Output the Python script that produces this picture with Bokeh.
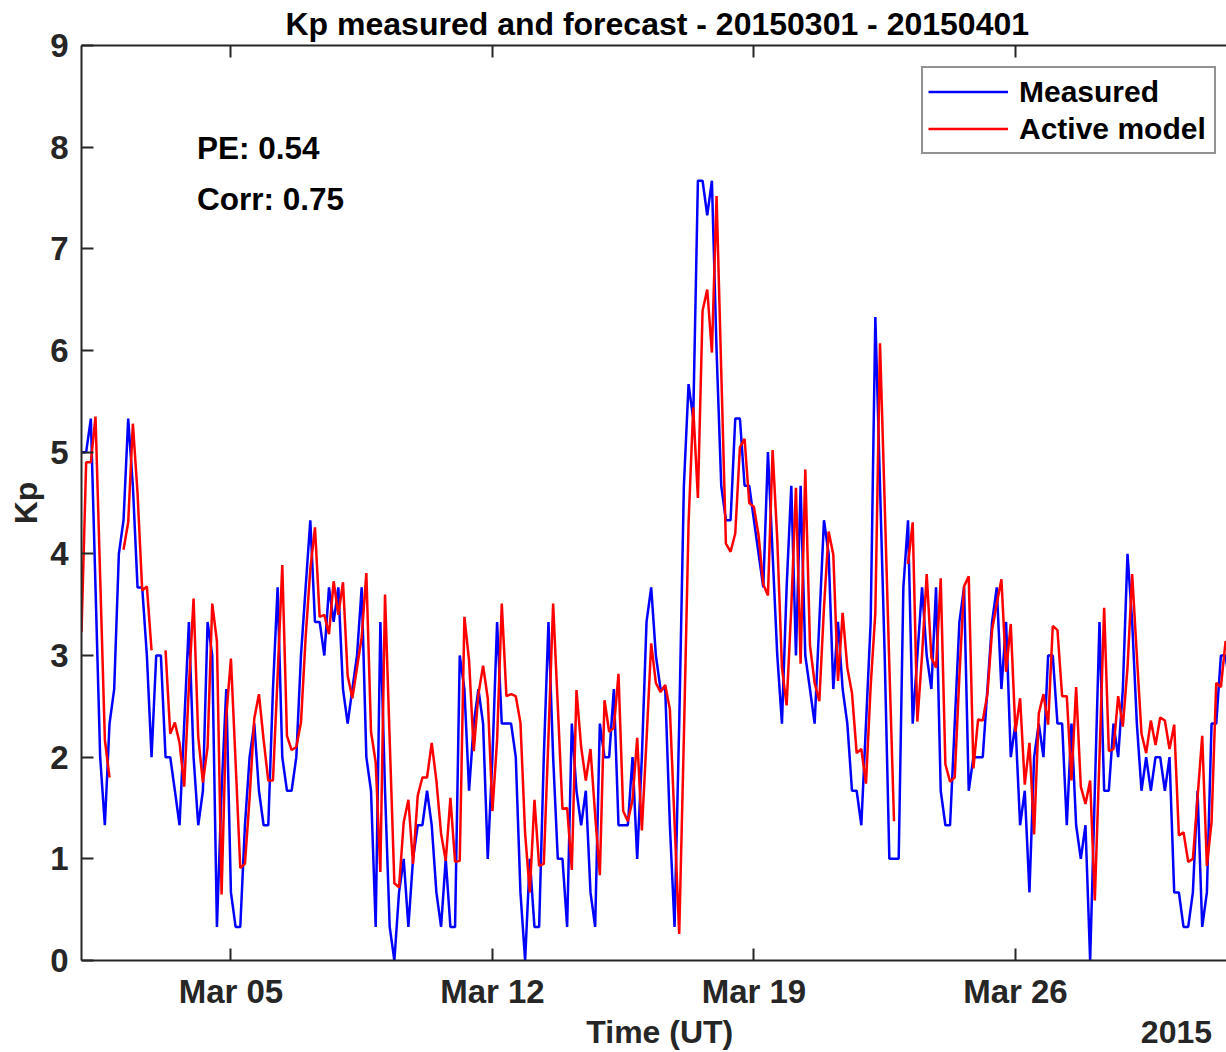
import numpy as np
import pandas as pd
from bokeh.plotting import figure
from bokeh.models import (Range1d, FixedTicker, DatetimeTickFormatter, DatetimeAxis,
                          LinearAxis, Label, Legend, LegendItem, ColumnDataSource)
from bokeh.embed import file_html
from bokeh.resources import INLINE

nan = float("nan")

# ---- data (3-hourly Kp, starting 2015-03-01 00:00 UT) ----
start_time = "2015-03-01 00:00"
step = "3h"

measured = [
    5.0, 5.0, 5.33, 3.67, 2.0, 1.33, 2.33, 2.67, 4.0, 4.33,
    5.33, 4.67, 3.67, 3.67, 3.0, 2.0, 3.0, 3.0, 2.0, 2.0,
    1.67, 1.33, 2.33, 3.33, 2.0, 1.33, 1.67, 3.33, 3.0, 0.33,
    1.67, 2.67, 0.67, 0.33, 0.33, 1.33, 2.0, 2.33, 1.67, 1.33,
    1.33, 2.67, 3.67, 2.0, 1.67, 1.67, 2.0, 3.0, 3.67, 4.33,
    3.33, 3.33, 3.0, 3.67, 3.33, 3.67, 2.67, 2.33, 2.67, 3.0,
    3.67, 2.0, 1.67, 0.33, 3.33, 1.67, 0.33, 0.0, 0.67, 1.0,
    0.33, 1.0, 1.33, 1.33, 1.67, 1.33, 0.67, 0.33, 1.0, 0.33,
    0.33, 3.0, 2.67, 1.67, 2.33, 2.67, 2.33, 1.0, 2.0, 3.33,
    2.33, 2.33, 2.33, 2.0, 0.67, 0.0, 1.0, 0.33, 0.33, 2.0,
    3.33, 2.0, 1.0, 1.0, 0.33, 2.33, 1.67, 1.33, 1.67, 0.67,
    0.33, 2.33, 2.0, 2.0, 2.67, 1.33, 1.33, 1.33, 2.0, 1.0,
    2.0, 3.33, 3.67, 3.0, 2.67, 2.67, 1.33, 0.33, 2.33, 4.67,
    5.67, 5.33, 7.67, 7.67, 7.33, 7.67, 6.0, 4.67, 4.33, 4.33,
    5.33, 5.33, 4.67, 4.67, 4.33, 4.0, 3.67, 5.0, 4.0, 3.0,
    2.33, 3.67, 4.67, 3.0, 4.67, 3.0, 2.67, 2.33, 3.33, 4.33,
    4.0, 2.67, 3.33, 2.67, 2.33, 1.67, 1.67, 1.33, 2.33, 3.33,
    6.33, 4.67, 3.0, 1.0, 1.0, 1.0, 3.67, 4.33, 2.33, 3.0,
    3.67, 3.0, 2.67, 3.67, 1.67, 1.33, 1.33, 2.33, 3.33, 3.67,
    1.67, 2.0, 2.0, 2.0, 2.67, 3.33, 3.67, 2.67, 3.33, 2.0,
    2.33, 1.33, 1.67, 0.67, 2.0, 2.33, 2.0, 3.0, 3.0, 2.33,
    2.33, 1.33, 2.33, 1.33, 1.0, 1.33, 0.0, 1.67, 3.33, 1.67,
    1.67, 2.33, 2.0, 2.67, 4.0, 3.33, 2.33, 1.67, 2.0, 1.67,
    2.0, 2.0, 1.67, 2.0, 0.67, 0.67, 0.33, 0.33, 0.67, 1.67,
    0.33, 0.67, 2.33, 2.33, 3.0, 3.0, 2.67,
]

active_model = [
    3.23, 4.9, 4.9, 5.35, 3.77, 2.17, 1.8, nan, nan, 4.04,
    4.31, 5.28, 4.6, 3.64, 3.68, 3.05, nan, nan, 3.05, 2.23,
    2.34, 2.14, 1.71, 2.7, 3.56, 2.2, 1.75, 2.1, 3.51, 3.14,
    0.65, 2.4, 2.97, 1.95, 0.91, 0.95, 1.6, 2.38, 2.62, 2.17,
    1.77, 1.77, 2.8, 3.89, 2.21, 2.07, 2.1, 2.34, 3.18, 3.85,
    4.26, 3.38, 3.4, 3.21, 3.73, 3.4, 3.72, 2.8, 2.58, 2.88,
    3.18, 3.81, 2.25, 1.95, 0.87, 3.6, 2.17, 0.76, 0.72, 1.36,
    1.58, 0.95, 1.62, 1.8, 1.8, 2.14, 1.77, 1.25, 0.98, 1.6,
    0.97, 0.98, 3.38, 2.95, 2.06, 2.62, 2.9, 2.58, 1.47, 2.17,
    3.51, 2.6, 2.62, 2.6, 2.34, 1.25, 0.67, 1.58, 0.93, 0.95,
    2.2, 3.51, 2.5, 1.49, 1.5, 0.89, 2.66, 2.1, 1.77, 2.08,
    1.43, 0.84, 2.56, 2.25, 2.29, 2.82, 1.47, 1.37, 1.58, 2.19,
    1.28, 2.17, 3.12, 2.73, 2.64, 2.71, 2.47, 1.36, 0.26, 2.2,
    4.3, 5.44, 4.55, 6.39, 6.6, 5.98, 7.52, 5.8, 4.1, 4.02,
    4.2, 5.05, 5.13, 4.5, 4.46, 4.18, 3.7, 3.59, 5.02, 4.14,
    2.88, 2.51, 3.47, 4.65, 2.92, 4.83, 3.1, 2.73, 2.55, 3.47,
    4.22, 3.99, 2.75, 3.42, 2.88, 2.63, 2.04, 2.08, 1.74, 2.7,
    3.42, 6.07, 4.5, 2.9, 1.37, nan, nan, 3.9, 4.31, 2.35,
    3.0, 3.8, 2.98, 2.88, 3.76, 1.93, 1.76, 1.8, 2.8, 3.68,
    3.78, 1.89, 2.37, 2.36, 2.62, 3.25, 3.51, 3.75, 2.84, 3.31,
    2.25, 2.58, 1.73, 2.14, 1.24, 2.43, 2.62, 2.32, 3.29, 3.25,
    2.6, 2.6, 1.77, 2.69, 1.71, 1.54, 1.77, 0.59, 2.0, 3.47,
    2.06, 2.08, 2.6, 2.3, 2.88, 3.8, 3.0, 2.23, 2.04, 2.36,
    2.12, 2.39, 2.36, 2.08, 2.32, 1.23, 1.26, 0.97, 1.0, 1.6,
    2.21, 0.93, 1.36, 2.73, 2.69, 3.14, 3.1,
]

x_tick_dates = ["2015-03-05", "2015-03-12", "2015-03-19", "2015-03-26"]
y_ticks = [0, 1, 2, 3, 4, 5, 6, 7, 8, 9]
title_text = "Kp measured and forecast - 20150301 - 20150401"
pe_text = "PE: 0.54"
corr_text = "Corr: 0.75"
x_label_text = "Time (UT)"
year_text = "2015"

# ---- build ----
times = pd.date_range(start_time, periods=len(measured), freq=step)
src = ColumnDataSource(dict(t=times, meas=np.array(measured, dtype=float),
                            model=np.array(active_model, dtype=float)))


def ms(ts):
    return float(int(pd.Timestamp(ts).value // 1_000_000))


day_ms = 86400000.0
x0 = ms(start_time)
x1 = x0 + 30.65 * day_ms

FONT = "Liberation Sans"
AX = "#262626"

p = figure(width=1226, height=1052, x_axis_type="datetime",
           x_range=Range1d(x0, x1), y_range=Range1d(0, 9),
           output_backend="svg", toolbar_location=None,
           min_border_left=81, min_border_right=0,
           min_border_top=45, min_border_bottom=92,
           background_fill_color="white", border_fill_color="white")

p.grid.visible = False
p.outline_line_color = None

r1 = p.line("t", "meas", source=src, line_color="#0000FF", line_width=2.5)
r2 = p.line("t", "model", source=src, line_color="#FF0000", line_width=2.5)

xt = FixedTicker(ticks=[ms(d) for d in x_tick_dates])
fmt = DatetimeTickFormatter(days="%b %d", months="%b %d", hours="%b %d",
                            minutes="%b %d", years="%b %d")

xa = p.xaxis[0]
xa.ticker = xt
xa.formatter = fmt

ya = p.yaxis[0]
ya.ticker = FixedTicker(ticks=y_ticks)
ya.axis_label = "Kp"


def style_axis(ax, size="33px"):
    ax.axis_line_color = AX
    ax.axis_line_width = 2
    ax.major_tick_line_color = AX
    ax.major_tick_line_width = 2
    ax.major_tick_in = 12
    ax.major_tick_out = 0
    ax.minor_tick_line_color = None
    ax.major_label_text_font = FONT
    ax.major_label_text_font_style = "bold"
    ax.major_label_text_font_size = size
    ax.major_label_text_color = AX
    ax.axis_label_text_font = FONT
    ax.axis_label_text_font_style = "bold"
    ax.axis_label_text_font_size = "32px"
    ax.axis_label_text_color = AX


style_axis(xa)
style_axis(ya)
xa.major_label_standoff = 12
ya.major_label_standoff = 13
ya.axis_label_standoff = 3

# second row below the time axis: "Time (UT)" label and the year marker
label_pos = [int(x0 + 15.48 * day_ms), int(x0 + 29.31 * day_ms)]
row2 = LinearAxis(ticker=FixedTicker(ticks=[float(v) for v in label_pos]),
                  major_label_overrides={float(label_pos[0]): x_label_text,
                                         float(label_pos[1]): year_text})
style_axis(row2, size="32px")
row2.axis_line_color = None
row2.major_tick_line_color = None
row2.major_label_standoff = 1
p.add_layout(row2, "below")

# box-top axis with inward ticks, no labels
top = DatetimeAxis(ticker=xt, formatter=fmt)
style_axis(top, size="1px")
top.major_label_overrides = {t: "" for t in xt.ticks}
top.major_label_standoff = 0
p.add_layout(top, "above")

p.title.text = title_text
p.title.align = "left"
p.title.offset = 204
p.title.text_font = FONT
p.title.text_font_style = "bold"
p.title.text_font_size = "32px"
p.title.text_color = "black"
p.title.standoff = 7

# PE / Corr annotations (data coordinates)
lab_x = x0 + 3.09 * day_ms
for txt, yv in ((pe_text, 7.99), (corr_text, 7.49)):
    p.add_layout(Label(x=lab_x, y=yv, text=txt, text_font=FONT,
                       text_font_style="bold", text_font_size="31.5px",
                       text_color="black", text_baseline="middle",
                       text_align="left"))

legend = Legend(items=[LegendItem(label="Measured", renderers=[r1]),
                       LegendItem(label="Active model", renderers=[r2])],
                location=(840, 806), margin=0, padding=5, spacing=0,
                glyph_width=80, glyph_height=37, label_height=37,
                label_width=190, label_standoff=11,
                label_text_font=FONT, label_text_font_style="bold",
                label_text_font_size="30px", label_text_color="black",
                border_line_color=AX, border_line_width=2,
                background_fill_color="white", background_fill_alpha=1.0)
p.add_layout(legend)

open("out.html", "w").write(file_html(p, INLINE))
